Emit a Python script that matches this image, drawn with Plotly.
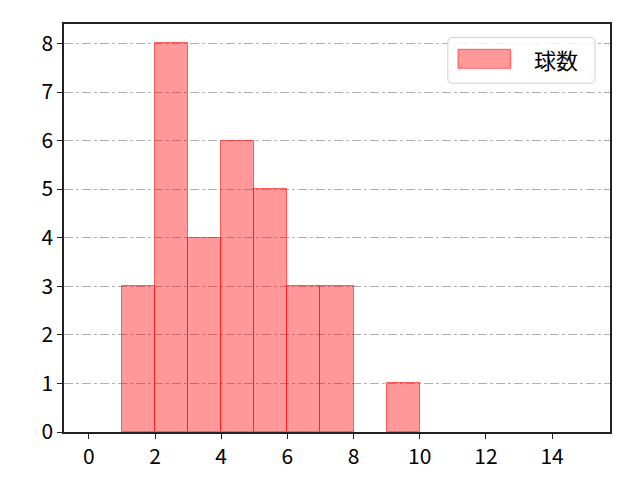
import plotly.graph_objects as go

# histogram bins (edges) and counts per bin
bin_edges = [0, 1, 2, 3, 4, 5, 6, 7, 8, 9, 10, 11, 12, 13, 14, 15]
counts = [0, 3, 8, 4, 6, 5, 3, 3, 0, 1, 0, 0, 0, 0, 0]
series_name = "球数"

x_ticks = [0, 2, 4, 6, 8, 10, 12, 14]
y_ticks = [0, 1, 2, 3, 4, 5, 6, 7, 8]

# empty bins draw nothing, like matplotlib
centers, heights, widths = [], [], []
for i, c in enumerate(counts):
    if c > 0:
        centers.append((bin_edges[i] + bin_edges[i + 1]) / 2)
        widths.append(bin_edges[i + 1] - bin_edges[i])
        heights.append(c)

bar_fill = "rgba(255,0,0,0.4)"
bar_edge = "rgba(255,0,0,0.55)"

fig = go.Figure()
fig.add_trace(go.Bar(
    x=centers, y=heights, width=widths, name=series_name,
    marker=dict(color=bar_fill, line=dict(color=bar_edge, width=1)),
    showlegend=False,
))

# manual legend (matplotlib style: rounded box, wide patch)
def rounded_box(x0, y0, x1, y1, rx, ry):
    return (f"M{x0+rx},{y0} L{x1-rx},{y0} Q{x1},{y0} {x1},{y0+ry} "
            f"L{x1},{y1-ry} Q{x1},{y1} {x1-rx},{y1} L{x0+rx},{y1} "
            f"Q{x0},{y1} {x0},{y1-ry} L{x0},{y0+ry} Q{x0},{y0} {x0+rx},{y0} Z")

fig.add_shape(type="path", xref="paper", yref="paper",
              path=rounded_box(0.703, 0.855, 0.9725, 0.967, 0.008, 0.011),
              line=dict(color="#d0d0d0", width=1), fillcolor="rgba(255,255,255,0.8)")
fig.add_shape(type="rect", xref="paper", yref="paper",
              x0=0.7216, x1=0.818, y0=0.8914, y1=0.938,
              line=dict(color=bar_edge, width=1), fillcolor=bar_fill)
fig.add_annotation(xref="paper", yref="paper", x=0.857, y=0.914,
                   xanchor="left", yanchor="middle", showarrow=False,
                   text=series_name, font=dict(size=22, color="black"))

font_family = "Noto Sans CJK JP, DejaVu Sans, sans-serif"
axis_common = dict(
    showline=True, linecolor="#222222", linewidth=1.5, mirror=True,
    ticks="outside", ticklen=5, tickwidth=1.2, tickcolor="#222222",
    zeroline=False, layer="above traces",
)
fig.update_layout(
    width=640, height=480,
    margin=dict(l=56, r=38, t=16, b=56),
    plot_bgcolor="white", paper_bgcolor="white",
    font=dict(family=font_family, size=21, color="black"),
    bargap=0,
    showlegend=False,
    xaxis=dict(range=[-0.75, 15.75], tickvals=x_ticks, showgrid=False, **axis_common),
    yaxis=dict(range=[0, 8.4], tickvals=y_ticks,
               showgrid=True, gridcolor="#b0b0b0", griddash="dashdot", gridwidth=1,
               **axis_common),
)

fig.write_html("out.html")
